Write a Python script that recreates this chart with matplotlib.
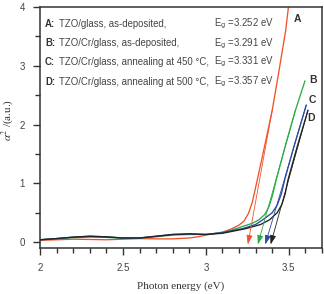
import matplotlib
matplotlib.use("Agg")
import matplotlib.pyplot as plt
from matplotlib.ticker import MultipleLocator

# courbes
xA = [2.00, 2.10, 2.20, 2.30, 2.40, 2.50, 2.60, 2.70, 2.80, 2.90, 2.95, 3.00, 3.05, 3.10,
      3.15, 3.20, 3.23, 3.257, 3.28, 3.31, 3.35, 3.40, 3.44, 3.475, 3.48, 3.50]
yA = [0.03, 0.04, 0.05, 0.045, 0.04, 0.05, 0.06, 0.055, 0.055, 0.07, 0.09, 0.12, 0.145, 0.17,
      0.22, 0.29, 0.36, 0.49, 0.68, 1.06, 1.58, 2.245, 2.90, 3.50, 3.58, 4.05]

xB = [2.00, 2.10, 2.20, 2.30, 2.40, 2.50, 2.60, 2.70, 2.80, 2.90, 3.00, 3.10, 3.15, 3.22,
      3.28, 3.32, 3.355, 3.38, 3.40, 3.424, 3.48, 3.54, 3.597]
yB = [0.04, 0.06, 0.075, 0.085, 0.08, 0.065, 0.07, 0.09, 0.12, 0.13, 0.13, 0.165, 0.20, 0.265,
      0.32, 0.38, 0.47, 0.60, 0.78, 1.06, 1.65, 2.245, 2.74]

xC = [2.00, 2.10, 2.20, 2.30, 2.40, 2.50, 2.60, 2.70, 2.80, 2.90, 3.00, 3.10, 3.222, 3.30,
      3.343, 3.40, 3.43, 3.455, 3.475, 3.53, 3.605]
yC = [0.04, 0.06, 0.085, 0.10, 0.09, 0.07, 0.07, 0.10, 0.13, 0.14, 0.13, 0.16, 0.23, 0.30,
      0.38, 0.50, 0.63, 0.82, 1.06, 1.62, 2.33]

xD = [2.00, 2.10, 2.20, 2.30, 2.40, 2.50, 2.60, 2.70, 2.80, 2.90, 3.00, 3.10, 3.242, 3.33,
      3.384, 3.43, 3.458, 3.478, 3.495, 3.55, 3.615]
yD = [0.04, 0.06, 0.085, 0.10, 0.09, 0.07, 0.07, 0.10, 0.13, 0.14, 0.13, 0.15, 0.23, 0.30,
      0.38, 0.50, 0.64, 0.82, 1.06, 1.62, 2.24]

lettres = ["A", "B", "C", "D"]
echantillons = ["TZO/glass, as-deposited,",
                "TZO/Cr/glass, as-deposited,",
                "TZO/Cr/glass, annealing at 450 \u00b0C,",
                "TZO/Cr/glass, annealing at 500 \u00b0C,"]
Eg = [3.252, 3.291, 3.331, 3.357]
# intersection des tangentes avec l'axe (pointes des fleches)
x_fleche = [3.253, 3.313, 3.358, 3.39]
# point haut des tangentes
x_haut = [3.40, 3.54, 3.605, 3.615]
y_haut = [2.245, 2.245, 2.33, 2.24]

couleurs = ["#f0532a", "#2caa4a", "#2b4aa3", "#222222"]
pos_lettres = [(3.551, 3.79), (3.647, 2.755), (3.642, 2.415), (3.632, 2.11)]

plt.rcParams['font.family'] = ['Liberation Sans', 'DejaVu Sans']

fig = plt.figure(figsize=(3.24, 2.94), dpi=100)
ax = fig.add_axes([0.1235, 0.1565, 0.8703, 0.8195])

courbes = [(xA, yA), (xB, yB), (xC, yC), (xD, yD)]
for (xs, ys), c in zip(courbes, couleurs):
    ax.plot(xs, ys, color=c, lw=0.95, solid_joinstyle='round')

for i in range(4):
    ax.annotate("", xy=(x_fleche[i], -0.04), xytext=(x_haut[i], y_haut[i]),
                arrowprops=dict(arrowstyle='-|>,head_length=0.55,head_width=0.18',
                                color=couleurs[i], lw=0.6, shrinkA=0, shrinkB=0))
    ax.text(pos_lettres[i][0], pos_lettres[i][1], lettres[i], fontsize=7.5,
            fontweight='bold', color='#333333', ha='center', va='center')

ligne_y = [3.72, 3.38, 3.06, 2.72]
for i in range(4):
    ax.text(2.03, ligne_y[i], lettres[i] + ":", fontsize=6.9, fontweight='bold',
            color='#333333', va='center')
    ax.text(2.117, ligne_y[i], echantillons[i], fontsize=6.9, color='#444444', va='center')
    ax.text(3.048, ligne_y[i], "E$_{\\rm g}$ =%.3f eV" % Eg[i], fontsize=6.9,
            color='#444444', va='center', math_fontfamily='dejavusans')

ax.set_xlim(2, 3.7)
ax.set_ylim(-0.1, 4)
ax.xaxis.set_major_locator(MultipleLocator(0.5))
ax.xaxis.set_minor_locator(MultipleLocator(0.1))
ax.yaxis.set_major_locator(MultipleLocator(1))
ax.yaxis.set_minor_locator(MultipleLocator(0.5))
ax.set_xticks([2, 2.5, 3, 3.5])
ax.set_xticklabels(["2", "2.5", "3", "3.5"])
ax.tick_params(which='major', direction='out', length=5, width=1.0, color='#333333',
               labelsize=7, labelcolor='#444444', pad=6)
ax.tick_params(which='minor', direction='out', length=3.6, width=1.0, color='#333333')
for s in ax.spines.values():
    s.set_linewidth(1.1)
    s.set_color('#333333')

ax.set_xlabel("Photon energy (eV)", family='Liberation Serif', fontsize=8, color='#333333',
              labelpad=6)
ax.set_ylabel("$\\alpha^2$ /(a.u.)", family='Liberation Serif', fontsize=8, color='#333333',
              math_fontfamily='stix')
ax.yaxis.set_label_coords(-0.085, 0.53)

plt.savefig("out.png", dpi=100)
